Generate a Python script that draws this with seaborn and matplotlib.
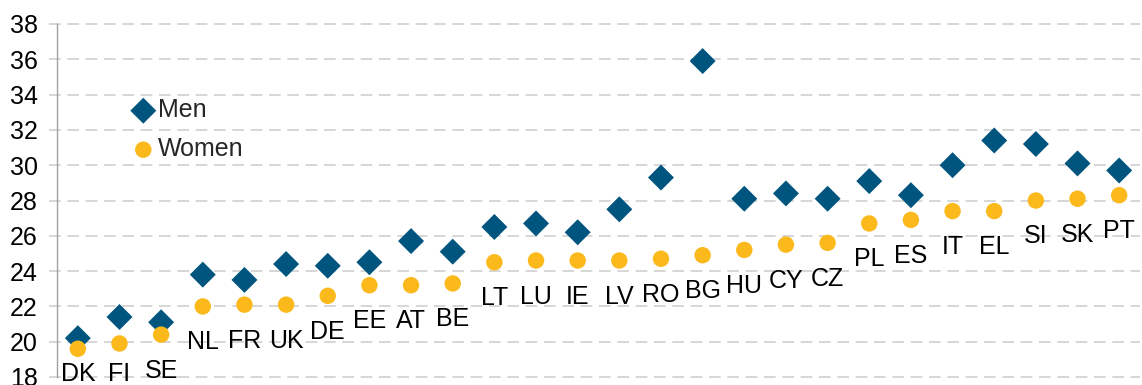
import matplotlib
matplotlib.use("Agg")
import matplotlib.pyplot as plt
import seaborn as sns
import pandas as pd

countries = ["DK", "FI", "SE", "NL", "FR", "UK", "DE", "EE", "AT", "BE", "LT", "LU", "IE",
             "LV", "RO", "BG", "HU", "CY", "CZ", "PL", "ES", "IT", "EL", "SI", "SK", "PT"]
men = [20.2, 21.4, 21.1, 23.8, 23.5, 24.4, 24.3, 24.5, 25.7, 25.1, 26.5, 26.7, 26.2,
       27.5, 29.3, 35.9, 28.1, 28.4, 28.1, 29.1, 28.3, 30.0, 31.4, 31.2, 30.1, 29.7]
women = [19.6, 19.9, 20.4, 22.0, 22.1, 22.1, 22.6, 23.2, 23.2, 23.3, 24.5, 24.6, 24.6,
         24.6, 24.7, 24.9, 25.2, 25.5, 25.6, 26.7, 26.9, 27.4, 27.4, 28.0, 28.1, 28.3]
yticks = [18, 20, 22, 24, 26, 28, 30, 32, 34, 36, 38]

MEN_COLOR = "#00557F"
WOMEN_COLOR = "#FBB91C"
FS = 18

sns.set_theme(style="white")
plt.rcParams["font.family"] = ["Liberation Sans", "DejaVu Sans"]

df = pd.DataFrame({"country": countries, "Men": men, "Women": women})

fig = plt.figure(figsize=(11.42, 3.85), dpi=100)
ax = fig.add_axes([57 / 1142, 1 - 377 / 385, (1140 - 57) / 1142, (377 - 24) / 385])

sns.scatterplot(data=df, x="country", y="Men", ax=ax, marker="D", s=175,
                color=MEN_COLOR, edgecolor="none", label="Men", zorder=3, clip_on=False)
sns.scatterplot(data=df, x="country", y="Women", ax=ax, marker="o", s=140,
                color=WOMEN_COLOR, edgecolor="none", label="Women", zorder=3, clip_on=False)

ax.set_xlim(-0.5, len(countries) - 0.5)
ax.set_ylim(18, 38)
ax.set_yticks(yticks)
ax.set_xticks([])
ax.set_xlabel("")
ax.set_ylabel("")
ax.tick_params(axis="y", labelsize=FS, colors="#000000", length=0, pad=14)

for y in yticks:
    ax.axhline(y, xmin=-8 / 1083, xmax=1.0, color="#d0d0d0", lw=1.2,
               linestyle=(0, (7, 4)), zorder=1, clip_on=False)

for s in ["top", "right", "bottom"]:
    ax.spines[s].set_visible(False)
ax.spines["left"].set_color("#a0a0a0")
ax.spines["left"].set_linewidth(1.0)

# country labels below women markers
fig.canvas.draw()
for i, (c, w) in enumerate(zip(countries, women)):
    dx, dy = ax.transData.transform((i, w))
    ty = max(dy - 36, 11)
    tx, tyd = ax.transData.inverted().transform((dx, ty))
    ax.text(i, tyd, c, ha="center", va="center", fontsize=FS, color="#000000",
            clip_on=False)

leg = ax.legend(loc="upper left", bbox_to_anchor=(0.0566, 0.818), frameon=False,
                fontsize=FS, handletextpad=0.0, labelspacing=0.6, borderaxespad=0,
                handlelength=1.2)

fig.savefig("out.png", dpi=100)
